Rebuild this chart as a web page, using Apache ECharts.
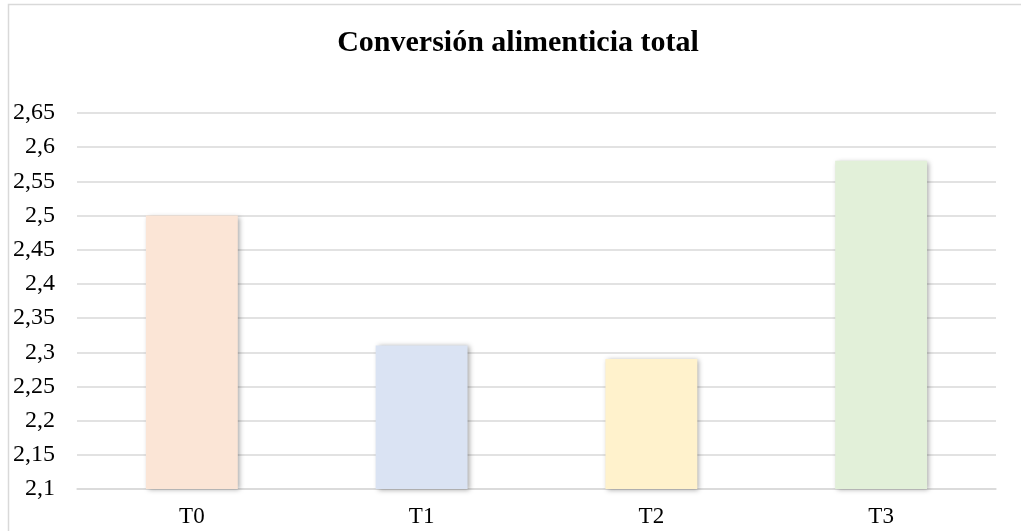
<!DOCTYPE html>
<html>
<head>
<meta charset="utf-8">
<script src="https://cdn.jsdelivr.net/npm/echarts@6/dist/echarts.min.js"></script>
<style>
  html, body { margin: 0; padding: 0; background: #fff; }
  #chart { width: 1021px; height: 531px; }
</style>
</head>
<body>
<div id="chart"></div>
<script>
// Feed conversion per treatment
const categories = ['T0', 'T1', 'T2', 'T3'];
const values = [2.50, 2.31, 2.29, 2.58];
const barColors = ['#FBE5D6', '#DAE3F3', '#FFF2CC', '#E2F0D9'];
const titleText = 'Conversión alimenticia total';

const chart = echarts.init(document.getElementById('chart'), null, { renderer: 'canvas' });

const serif = '"Liberation Serif", "Times New Roman", serif';

chart.setOption({
  animation: false,
  backgroundColor: '#ffffff',
  title: {
    text: titleText,
    left: 513,
    textAlign: 'center',
    top: 23,
    textStyle: { fontFamily: serif, fontWeight: 'bold', fontSize: 30, color: '#000' }
  },
  graphic: [
    {
      type: 'polyline',
      shape: { points: [[8.5, 531], [8.5, 4.5], [1021, 4.5]] },
      style: { stroke: '#d9d9d9', lineWidth: 1.5, fill: null },
      silent: true
    }
  ],
  grid: { left: 77, right: 25, top: 113, bottom: 42 },
  xAxis: {
    type: 'category',
    data: categories,
    axisLine: { show: true, lineStyle: { color: '#d9d9d9', width: 1.5 } },
    axisTick: { show: false },
    axisLabel: { fontFamily: serif, fontSize: 23, color: '#000', margin: 16 }
  },
  yAxis: {
    type: 'value',
    min: 2.1,
    max: 2.65,
    interval: 0.05,
    axisLine: { show: false },
    axisTick: { show: false },
    splitLine: { lineStyle: { color: '#d9d9d9', width: 1.5 } },
    axisLabel: {
      fontFamily: serif, fontSize: 24, color: '#000', margin: 22,
      formatter: v => String(Math.round(v * 100) / 100).replace('.', ',')
    }
  },
  series: [{
    type: 'bar',
    barWidth: '40%',
    data: values.map((v, i) => ({
      value: v,
      itemStyle: {
        color: barColors[i],
        shadowColor: 'rgba(0,0,0,0.35)',
        shadowBlur: 5,
        shadowOffsetX: 2,
        shadowOffsetY: 1
      }
    }))
  }]
});
</script>
</body>
</html>
